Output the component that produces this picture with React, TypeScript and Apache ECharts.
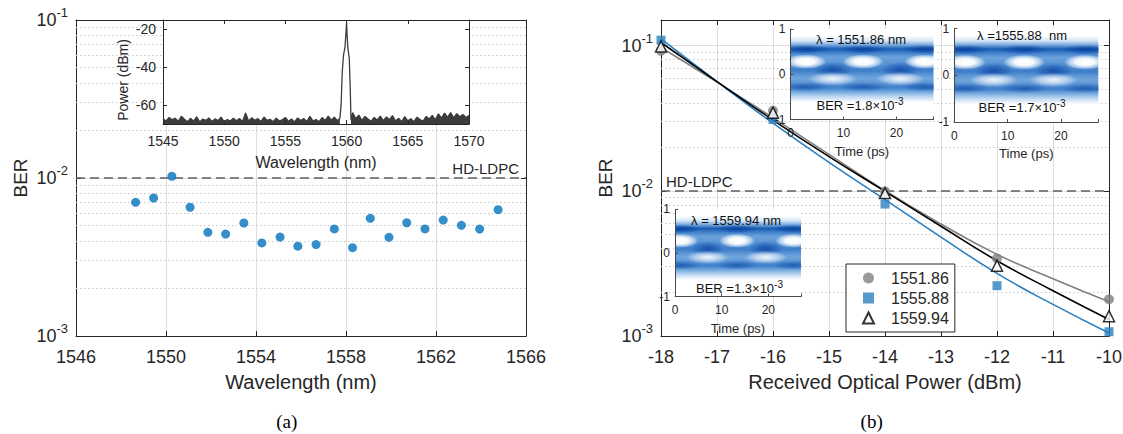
import React, { useEffect, useRef } from 'react';
import * as echarts from 'echarts';

const FONT = 'Liberation Sans, Arial, Helvetica, sans-serif';
const SERIF = 'Liberation Serif, Times New Roman, serif';
const INK = '#262626';
const GRID = '#dedede';
const MINOR = '#c8c8c8';
const BLUE = '#2a7fc0';
const GREY = '#808080';

// ---------- (a) BER per channel ----------
const channelWl = [1548.65, 1549.45, 1550.26, 1551.07, 1551.86, 1552.65, 1553.46, 1554.26, 1555.07, 1555.86, 1556.67, 1557.48, 1558.29, 1559.08, 1559.91, 1560.7, 1561.51, 1562.32, 1563.13, 1563.94, 1564.76];
const channelBer = [7.02e-3, 7.47e-3, 1.026e-2, 6.53e-3, 4.53e-3, 4.42e-3, 5.19e-3, 3.88e-3, 4.23e-3, 3.7e-3, 3.79e-3, 4.76e-3, 3.62e-3, 5.56e-3, 4.21e-3, 5.21e-3, 4.76e-3, 5.42e-3, 5.02e-3, 4.75e-3, 6.3e-3];
const hdLdpc = 0.01;
const minorLeft = [0.002, 0.003, 0.004, 0.005, 0.006, 0.007, 0.008, 0.009, 0.02, 0.03, 0.04, 0.05, 0.06, 0.07, 0.08, 0.09];
const minorRight = [0.002, 0.003, 0.004, 0.005, 0.006, 0.007, 0.008, 0.009, 0.02, 0.03, 0.04, 0.05, 0.06, 0.07, 0.08, 0.09];

// ---------- spectrum inset ----------
const specWl = [
  1545.0, 1545.25, 1545.5, 1545.75, 1546.0, 1546.25, 1546.5, 1546.75, 1547.0, 1547.25, 1547.5, 1547.75,
  1548.0, 1548.25, 1548.5, 1548.75, 1549.0, 1549.25, 1549.5, 1549.75, 1550.0, 1550.25, 1550.5, 1550.75,
  1551.0, 1551.25, 1551.5, 1551.75, 1552.0, 1552.25, 1552.5, 1552.75, 1553.0, 1553.25, 1553.5, 1553.75,
  1554.0, 1554.25, 1554.5, 1554.75, 1555.0, 1555.25, 1555.5, 1555.75, 1556.0, 1556.25, 1556.5, 1556.75,
  1557.0, 1557.25, 1557.5, 1557.75, 1558.0, 1558.25, 1558.5, 1558.75, 1559.0, 1559.25,
  1559.45, 1559.55, 1559.65, 1559.75, 1559.87, 1559.95, 1560.0, 1560.05, 1560.1, 1560.22, 1560.3, 1560.36,
  1560.5, 1560.75, 1561.0, 1561.25, 1561.5, 1561.75, 1562.0, 1562.25, 1562.5, 1562.75, 1563.0, 1563.25,
  1563.5, 1563.75, 1564.0, 1564.25, 1564.5, 1564.75, 1565.0, 1565.25, 1565.5, 1565.75, 1566.0, 1566.25,
  1566.5, 1566.75, 1567.0, 1567.25, 1567.5, 1567.75, 1568.0, 1568.25, 1568.5, 1568.75, 1569.0, 1569.25,
  1569.5, 1569.75, 1570.0,
];
const specPow = [
  -67.2, -68.4, -66.5, -67.8, -66.9, -68.6, -65.9, -67.5, -68.8, -67.0, -68.5, -66.2,
  -68.9, -67.4, -68.1, -66.8, -68.7, -67.3, -68.2, -66.4, -68.9, -67.6, -68.4, -66.9,
  -68.3, -67.1, -68.6, -64.2, -68.5, -66.7, -68.0, -67.2, -68.7, -66.3, -68.1, -67.5,
  -68.8, -66.9, -68.3, -67.8, -66.5, -68.6, -67.4, -68.9, -66.8, -68.2, -67.1, -68.7,
  -66.0, -68.4, -67.6, -68.8, -66.6, -68.1, -65.8, -67.9, -66.4, -68.3,
  -67.0, -60.0, -42.0, -33.5, -29.3, -21.5, -16.5, -24.0, -29.5, -35.5, -52.0, -68.0,
  -64.0, -67.2, -65.3, -68.1, -66.0, -67.4, -68.6, -66.5, -67.9, -65.8, -68.2, -66.3,
  -67.7, -65.6, -68.4, -67.0, -68.7, -66.1, -68.3, -67.2, -68.8, -66.4, -67.6, -68.5,
  -66.0, -67.3, -65.4, -67.8, -64.6, -66.9, -64.2, -66.5, -64.0, -66.8, -64.5, -66.2,
  -65.0, -66.6, -65.5,
];
const peakFrom = 1559.5;
const peakTo = 1560.33;
const specTicks = [-60, -40, -20];

// ---------- (b) BER vs received power ----------
const powerDbm = [-18, -16, -14, -12, -10];
const ber1551 = [0.092, 0.0356, 0.0099, 0.00342, 0.00179];
const ber1555 = [0.109, 0.031, 0.0081, 0.00222, 0.00107];
const ber1559 = [0.0985, 0.0345, 0.00964, 0.00305, 0.00137];
const fitPower = [-18, -17, -16, -15, -14, -13, -12, -11, -10];
const fit1551 = [0.097, 0.056, 0.0318, 0.0178, 0.01, 0.0059, 0.00365, 0.00248, 0.00172];
const fit1555 = [0.111, 0.0565, 0.0292, 0.0157, 0.0087, 0.0048, 0.0027, 0.00165, 0.00105];
const fit1559 = [0.105, 0.0565, 0.0307, 0.0172, 0.0099, 0.0057, 0.0033, 0.00205, 0.0013];

// ---------- eye diagrams (times of eye openings / crossings, ps) ----------
const eye1Open = [2.9, 13.7, 25.4];
const eye1Cross = [8.0, 20.7];
const eye2Open = [2.0, 13.1, 24.5];
const eye2Cross = [7.4, 18.6];
const eye3Open = [1.1, 13.3, 25.4];
const eye3Cross = [7.0, 19.5];
const EYE_T_MAX = 27;
const V_TOP_RAIL = 0.55;
const V_OPEN = 0.28;
const V_CROSS = 0.1;
const V_LOWER = -0.1;
const V_BOTTOM_RAIL = -0.28;
const BAND_TOP = 0.85;
const BAND_BOTTOM = -0.62;

const bandStopsV: [number, string][] = [
  [0.85, '#ffffff'], [0.74, '#d6e6f6'], [0.64, '#6ea2da'], [0.56, '#1a5db0'], [0.48, '#3f7fca'],
  [0.38, '#6aa2db'], [0.28, '#5e98d6'], [0.16, '#4c8ad0'], [0.08, '#3e7ec9'], [-0.02, '#5e98d6'],
  [-0.1, '#70a5dc'], [-0.2, '#5892d4'], [-0.3, '#4181cb'], [-0.4, '#7aaee0'], [-0.5, '#c0d9f1'],
  [-0.62, '#ffffff'],
];
const bandStops = bandStopsV.map(([v, c]) => ({ offset: (BAND_TOP - v) / (BAND_TOP - BAND_BOTTOM), color: c }));
const dark = (a: number) => [
  { offset: 0, color: `rgba(0,55,150,${a})` },
  { offset: 0.55, color: `rgba(0,60,160,${a * 0.55})` },
  { offset: 1, color: 'rgba(0,60,160,0)' },
];
const SPOTS: Record<number, { rt: number; rv: number; stops: any[] }> = {
  1: { rt: 3.9, rv: 0.16, stops: [{ offset: 0, color: 'rgba(255,255,255,1)' }, { offset: 0.45, color: 'rgba(255,255,255,0.95)' }, { offset: 0.8, color: 'rgba(255,255,255,0.45)' }, { offset: 1, color: 'rgba(255,255,255,0)' }] },
  2: { rt: 4.6, rv: 0.15, stops: [{ offset: 0, color: 'rgba(255,255,255,0.9)' }, { offset: 0.5, color: 'rgba(240,246,252,0.6)' }, { offset: 1, color: 'rgba(255,255,255,0)' }] },
  3: { rt: 4.5, rv: 0.1, stops: dark(0.7) },
  4: { rt: 3.6, rv: 0.17, stops: dark(0.65) },
  5: { rt: 4.5, rv: 0.1, stops: dark(0.5) },
};

const eyeRender = (_params: any, api: any) => {
  const kind = api.value(2);
  if (kind === 0) {
    const p0 = api.coord([0, BAND_TOP]);
    const p1 = api.coord([EYE_T_MAX, BAND_BOTTOM]);
    return {
      type: 'rect',
      shape: { x: p0[0], y: p0[1], width: p1[0] - p0[0], height: p1[1] - p0[1] },
      style: { fill: { type: 'linear', x: 0, y: 0, x2: 0, y2: 1, colorStops: bandStops } },
    };
  }
  const spec = SPOTS[kind];
  const c = api.coord([api.value(0), api.value(1)]);
  const s = api.size([spec.rt, spec.rv]);
  return {
    type: 'circle',
    x: c[0],
    y: c[1],
    scaleX: s[0] / s[1],
    scaleY: 1,
    shape: { cx: 0, cy: 0, r: s[1] },
    style: { fill: { type: 'radial', x: 0.5, y: 0.5, r: 0.5, colorStops: spec.stops } },
  };
};

const eyeSeries = (idx: number, open: number[], cross: number[]) => ({
  type: 'custom',
  xAxisIndex: idx,
  yAxisIndex: idx,
  clip: true,
  silent: true,
  z: 7,
  encode: { x: 0, y: 1 },
  data: [
    [0, 0, 0],
    ...open.map((t) => [t, V_TOP_RAIL, 3]),
    ...open.map((t) => [t, V_BOTTOM_RAIL, 5]),
    ...cross.map((t) => [t, V_CROSS, 4]),
    ...open.map((t) => [t, V_OPEN, 1]),
    ...cross.map((t) => [t, V_LOWER, 2]),
  ],
  renderItem: eyeRender,
});

const supLabel = (v: number) => {
  const e = Math.log10(v);
  const r = Math.round(e);
  return Math.abs(e - r) < 1e-6 ? `{b|10}{s|${r}}` : '';
};
const logRich = {
  b: { fontSize: 18, lineHeight: 28, color: INK, fontFamily: FONT },
  s: { fontSize: 13, lineHeight: 13, verticalAlign: 'top', color: INK, fontFamily: FONT },
};
const plain = (v: number) => String(v);

const axisLine = { show: true, onZero: false, lineStyle: { color: INK, width: 1 } };
const tickIn = { show: true, inside: true, length: 5, lineStyle: { color: INK, width: 1 } };
const eyeLine = { show: true, onZero: false, lineStyle: { color: '#4a4a4a', width: 1 } };
const eyeTick = { show: true, inside: true, length: 3, lineStyle: { color: '#4a4a4a', width: 1 } };

const markLines = (minor: number[], pos: string, dist: number[]) => ({
  silent: true,
  z: 1,
  precision: 10,
  symbol: ['none', 'none'],
  animation: false,
  lineStyle: { color: MINOR, type: [1.5, 2.5], width: 1 },
  label: { show: false },
  emphasis: { disabled: true },
  data: [
    ...minor.map((v) => ({ yAxis: v })),
    {
      yAxis: hdLdpc,
      lineStyle: { color: '#5f5f5f', type: [9, 5], width: 1.6 },
      label: { show: true, position: pos, formatter: 'HD-LDPC', fontSize: 15, color: INK, fontFamily: FONT, distance: dist },
    },
  ],
});

const eyeX = (grid: number, margin: number) => ({
  gridIndex: grid,
  type: 'value',
  min: 0,
  max: EYE_T_MAX,
  interval: 10,
  position: 'bottom',
  z: 8,
  axisLine: eyeLine,
  axisTick: eyeTick,
  axisLabel: { fontSize: 12, color: INK, margin, formatter: (v: number) => (v % 10 === 0 ? String(v) : '') },
  splitLine: { show: false },
  name: 'Time (ps)',
  nameLocation: 'middle',
  nameGap: 25,
  nameTextStyle: { fontSize: 13, color: INK },
});
const eyeY = (grid: number) => ({
  gridIndex: grid,
  type: 'value',
  min: -1,
  max: 1,
  interval: 1,
  position: 'left',
  z: 8,
  axisLine: eyeLine,
  axisTick: eyeTick,
  axisLabel: { fontSize: 12, color: INK, margin: 5, formatter: plain },
  splitLine: { show: false },
});

const noGridBox = { containLabel: false, outerBoundsMode: 'none' };

const leftPts = channelWl.map((w, i) => [w, channelBer[i]]);
const specPts = specWl.map((w, i) => [w, specPow[i]]);
const noisePts = specWl.map((w, i) => [w, w >= peakFrom && w <= peakTo ? null : specPow[i]]);
const pts = (xs: number[], ys: number[]) => xs.map((x, i) => [x, ys[i]]);

const eyeText = (x: number, y: number, text: string) => ({
  type: 'text',
  x,
  y,
  z: 100,
  silent: true,
  style: { text, fill: '#111', fontSize: 13, fontFamily: FONT, align: 'center', verticalAlign: 'middle' },
});
const berText = (x: number, y: number, mant: string, exp: string) => ({
  type: 'text',
  x,
  y,
  z: 100,
  silent: true,
  style: {
    text: `{n|BER =${mant}\u00d710}{s|${exp}}`,
    align: 'center',
    verticalAlign: 'middle',
    rich: {
      n: { fontSize: 13, lineHeight: 18, fill: '#111', fontFamily: FONT },
      s: { fontSize: 10, lineHeight: 10, verticalAlign: 'top', fill: '#111', fontFamily: FONT },
    },
  },
});

const option: any = {
  animation: false,
  backgroundColor: '#ffffff',
  textStyle: { fontFamily: FONT },
  grid: [
    { left: 76, top: 20, width: 450, height: 316, ...noGridBox },
    { left: 163, top: 20, width: 306, height: 104, show: true, backgroundColor: '#ffffff', borderWidth: 0, z: 5, ...noGridBox },
    { left: 661, top: 20, width: 448, height: 316, ...noGridBox },
    { left: 790.5, top: 29, width: 143, height: 90.5, show: true, backgroundColor: '#ffffff', borderWidth: 0, z: 6, ...noGridBox },
    { left: 954.3, top: 28.5, width: 144, height: 93.5, show: true, backgroundColor: '#ffffff', borderWidth: 0, z: 6, ...noGridBox },
    { left: 675, top: 209.3, width: 126, height: 87.3, show: true, backgroundColor: '#ffffff', borderWidth: 0, z: 6, ...noGridBox },
  ],
  xAxis: [
    {
      gridIndex: 0, type: 'value', min: 1546, max: 1566, interval: 4, position: 'bottom',
      axisLine, axisTick: tickIn,
      axisLabel: { fontSize: 18, color: INK, margin: 12, formatter: plain },
      splitLine: { show: true, lineStyle: { color: GRID, width: 1 } },
      name: 'Wavelength (nm)', nameLocation: 'middle', nameGap: 36, nameTextStyle: { fontSize: 20, color: INK },
    },
    {
      gridIndex: 0, type: 'value', min: 1546, max: 1566, interval: 4, position: 'top',
      axisLine, axisTick: tickIn, axisLabel: { show: false }, splitLine: { show: false },
    },
    {
      gridIndex: 1, type: 'value', min: 1545, max: 1570, interval: 5, position: 'bottom', z: 6,
      axisLine, axisTick: { ...tickIn, length: 4 },
      axisLabel: { fontSize: 14, color: INK, margin: 10, formatter: plain },
      splitLine: { show: false },
      name: 'Wavelength (nm)', nameLocation: 'middle', nameGap: 30, nameTextStyle: { fontSize: 16, color: INK },
    },
    {
      gridIndex: 1, type: 'value', min: 1545, max: 1570, interval: 5, position: 'top', z: 6,
      axisLine, axisTick: { ...tickIn, length: 4 }, axisLabel: { show: false }, splitLine: { show: false },
    },
    {
      gridIndex: 2, type: 'value', min: -18, max: -10, interval: 1, position: 'bottom',
      axisLine, axisTick: tickIn,
      axisLabel: { fontSize: 18, color: INK, margin: 12, formatter: plain },
      splitLine: { show: true, lineStyle: { color: GRID, width: 1 } },
      name: 'Received Optical Power (dBm)', nameLocation: 'middle', nameGap: 36, nameTextStyle: { fontSize: 20, color: INK },
    },
    {
      gridIndex: 2, type: 'value', min: -18, max: -10, interval: 1, position: 'top',
      axisLine, axisTick: tickIn, axisLabel: { show: false }, splitLine: { show: false },
    },
    eyeX(3, 7),
    eyeX(4, 8),
    eyeX(5, 7),
  ],
  yAxis: [
    {
      gridIndex: 0, type: 'log', logBase: 10, min: 0.001, max: 0.1, position: 'left',
      axisLine, axisTick: tickIn,
      axisLabel: { formatter: supLabel, rich: logRich, margin: 8 },
      splitLine: { show: true, lineStyle: { color: GRID, width: 1 } },
      name: 'BER', nameLocation: 'middle', nameGap: 46, nameTextStyle: { fontSize: 19, color: INK },
    },
    {
      gridIndex: 0, type: 'log', logBase: 10, min: 0.001, max: 0.1, position: 'right',
      axisLine, axisTick: tickIn, axisLabel: { show: false }, splitLine: { show: false },
    },
    {
      gridIndex: 1, type: 'value', min: -70, max: -15, interval: 10, position: 'left', z: 6,
      axisLine, axisTick: { ...tickIn, length: 4, customValues: specTicks },
      axisLabel: {
        fontSize: 14, color: INK, margin: 7, customValues: specTicks,
        formatter: (v: number) => (specTicks.indexOf(v) >= 0 ? String(v) : ''),
      },
      splitLine: { show: false },
      name: 'Power (dBm)', nameLocation: 'middle', nameGap: 33,
      nameTextStyle: { fontSize: 14, color: INK, padding: [0, 16, 0, 0] },
    },
    {
      gridIndex: 1, type: 'value', min: -70, max: -15, interval: 10, position: 'right', z: 6,
      axisLine, axisTick: { ...tickIn, length: 4, customValues: specTicks }, axisLabel: { show: false }, splitLine: { show: false },
    },
    {
      gridIndex: 2, type: 'log', logBase: 10, min: 0.001, max: 0.15, position: 'left',
      axisLine, axisTick: tickIn,
      axisLabel: { formatter: supLabel, rich: logRich, margin: 8 },
      splitLine: { show: true, lineStyle: { color: GRID, width: 1 } },
      name: 'BER', nameLocation: 'middle', nameGap: 46, nameTextStyle: { fontSize: 19, color: INK },
    },
    {
      gridIndex: 2, type: 'log', logBase: 10, min: 0.001, max: 0.15, position: 'right',
      axisLine, axisTick: tickIn, axisLabel: { show: false }, splitLine: { show: false },
    },
    eyeY(3),
    eyeY(4),
    eyeY(5),
  ],
  legend: {
    show: true,
    data: [
      { name: '1551.86', icon: 'circle' },
      { name: '1555.88', icon: 'rect' },
      { name: '1559.94', icon: 'triangle' },
    ],
    left: 846,
    top: 264,
    orient: 'vertical',
    itemWidth: 11,
    itemHeight: 11,
    itemGap: 4,
    padding: [6, 6, 6, 16],
    backgroundColor: '#ffffff',
    borderColor: INK,
    borderWidth: 1,
    borderRadius: 0,
    selectedMode: false,
    textStyle: { fontSize: 16, color: INK, fontFamily: FONT, padding: [0, 0, 0, 12] },
    z: 10,
  },
  series: [
    {
      type: 'line', name: 'gridA', xAxisIndex: 0, yAxisIndex: 0, data: leftPts, symbol: 'none',
      lineStyle: { opacity: 0, width: 0 }, silent: true, z: 1,
      markLine: markLines(minorLeft, 'insideEndTop', [7, 2]),
    },
    {
      type: 'scatter', name: 'channels', xAxisIndex: 0, yAxisIndex: 0, data: leftPts,
      symbol: 'circle', symbolSize: 9, itemStyle: { color: '#0072BD' }, z: 3,
    },
    {
      type: 'line', name: 'noise', xAxisIndex: 2, yAxisIndex: 2, data: noisePts, symbol: 'none', connectNulls: false,
      lineStyle: { width: 0 }, areaStyle: { color: '#3c3c3c', opacity: 1, origin: 'start' }, silent: true, z: 6,
    },
    {
      type: 'line', name: 'spectrum', xAxisIndex: 2, yAxisIndex: 2, data: specPts, symbol: 'none',
      lineStyle: { color: '#3c3c3c', width: 1.3 }, silent: true, z: 6,
    },
    {
      type: 'line', name: 'gridB', xAxisIndex: 4, yAxisIndex: 4, data: pts(powerDbm, ber1559), symbol: 'none',
      lineStyle: { opacity: 0, width: 0 }, silent: true, z: 1,
      markLine: markLines(minorRight, 'insideStartTop', [5, 2]),
    },
    {
      type: 'line', name: 'fit1551', xAxisIndex: 4, yAxisIndex: 4, data: pts(fitPower, fit1551), smooth: true,
      symbol: 'none', lineStyle: { color: GREY, width: 1.6 }, z: 2,
    },
    {
      type: 'line', name: 'fit1555', xAxisIndex: 4, yAxisIndex: 4, data: pts(fitPower, fit1555), smooth: true,
      symbol: 'none', lineStyle: { color: BLUE, width: 1.6 }, z: 2,
    },
    {
      type: 'line', name: 'fit1559', xAxisIndex: 4, yAxisIndex: 4, data: pts(fitPower, fit1559), smooth: true,
      symbol: 'none', lineStyle: { color: '#000000', width: 1.6 }, z: 2,
    },
    {
      type: 'scatter', name: '1551.86', xAxisIndex: 4, yAxisIndex: 4, data: pts(powerDbm, ber1551),
      symbol: 'circle', symbolSize: 10, itemStyle: { color: GREY }, z: 3,
    },
    {
      type: 'scatter', name: '1555.88', xAxisIndex: 4, yAxisIndex: 4, data: pts(powerDbm, ber1555),
      symbol: 'rect', symbolSize: 9, itemStyle: { color: BLUE }, z: 3,
    },
    {
      type: 'scatter', name: '1559.94', xAxisIndex: 4, yAxisIndex: 4, data: pts(powerDbm, ber1559),
      symbol: 'triangle', symbolSize: 11, itemStyle: { color: '#ffffff', borderColor: '#000000', borderWidth: 1.5 }, z: 4,
    },
    eyeSeries(6, eye1Open, eye1Cross),
    eyeSeries(7, eye2Open, eye2Cross),
    eyeSeries(8, eye3Open, eye3Cross),
  ],
  graphic: [
    {
      type: 'text', x: 286.7, y: 421, z: 100, silent: true,
      style: { text: '(a)', fill: '#000', fontSize: 19, fontFamily: SERIF, align: 'center', verticalAlign: 'middle' },
    },
    {
      type: 'text', x: 871.7, y: 421, z: 100, silent: true,
      style: { text: '(b)', fill: '#000', fontSize: 19, fontFamily: SERIF, align: 'center', verticalAlign: 'middle' },
    },
    eyeText(861, 39, '\u03bb = 1551.86 nm'),
    berText(860, 105, '1.8', '-3'),
    eyeText(1022, 35, '\u03bb =1555.88  nm'),
    berText(1022, 107, '1.7', '-3'),
    eyeText(736, 220, '\u03bb = 1559.94 nm'),
    berText(739.5, 288, '1.3', '-3'),
  ],
};

export default function App() {
  const ref = useRef<HTMLDivElement>(null);
  useEffect(() => {
    if (!ref.current) return;
    const chart = echarts.init(ref.current, null, { renderer: 'svg' });
    chart.setOption(option);
    return () => chart.dispose();
  }, []);
  return (
    <div
      ref={ref}
      style={{ position: 'absolute', left: 0, top: 0, width: 1123, height: 434, background: '#fff' }}
    />
  );
}
